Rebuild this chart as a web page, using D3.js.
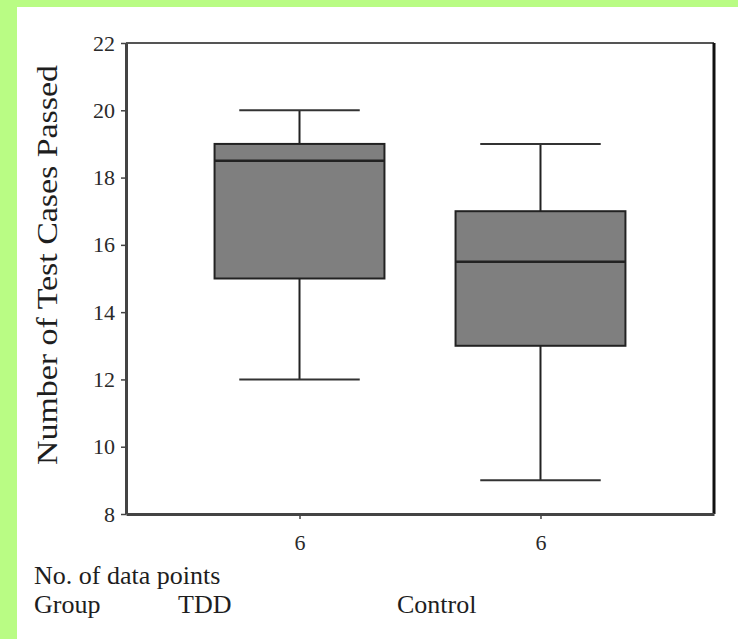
<!DOCTYPE html>
<html>
<head>
<meta charset="utf-8">
<script src="https://cdn.jsdelivr.net/npm/d3@7"></script>
<style>
  body { margin: 0; background: #b9fc84; }
</style>
</head>
<body>
<div id="chart"></div>
<script>
// box plot data
var groups = ["TDD", "Control"];
var counts = [6, 6];
var whiskerLow = [12, 9];
var quartile1 = [15, 13];
var medians = [18.5, 15.5];
var quartile3 = [19, 17];
var whiskerHigh = [20, 19];
var yTicks = [8, 10, 12, 14, 16, 18, 20, 22];

var serif = "'Liberation Serif', 'Times New Roman', serif";
var stretch = 1.15; // the source picture is a bit taller than wide

// init size
var width = 738;
var height = 639;
var margin = {top: 43, right: 24, bottom: 125, left: 126};
var plotW = width - margin.left - margin.right;
var plotH = height - margin.top - margin.bottom;

var svg = d3.select("#chart")
    .append("svg")
    .attr("width", width)
    .attr("height", height)
    .style("display", "block");

// white panel over green background
svg.append("rect")
    .attr("x", 17)
    .attr("y", 7)
    .attr("width", width - 17)
    .attr("height", height - 7)
    .attr("fill", "#fff");

// scales
var x = d3.scalePoint()
    .domain(groups)
    .range([0, plotW])
    .padding(0.72);

var step = x.step();

var y = d3.scaleLinear()
    .domain([8, 22])
    .range([plotH, 0]);

var g = svg.append("g")
    .attr("transform", "translate(" + margin.left + "," + margin.top + ")");

// frame
g.append("line").attr("x1", 0).attr("x2", plotW).attr("y1", 0).attr("y2", 0)
    .attr("stroke", "#555").attr("stroke-width", 2);
g.append("line").attr("x1", plotW).attr("x2", plotW).attr("y1", 0).attr("y2", plotH)
    .attr("stroke", "#111").attr("stroke-width", 3);

// axes
var yAxis = g.append("g")
    .call(d3.axisLeft(y).tickValues(yTicks).tickSize(5).tickSizeOuter(0).tickPadding(6).tickFormat(d3.format("d")));

var xAxis = g.append("g")
    .attr("transform", "translate(0," + plotH + ")")
    .call(d3.axisBottom(x).tickSize(5).tickSizeOuter(0).tickPadding(15).tickFormat((d, i) => counts[i]));

[yAxis, xAxis].forEach(function(a) {
    a.attr("font-family", serif);
    a.select(".domain").attr("stroke", "#444").attr("stroke-width", 3);
    a.selectAll(".tick line").attr("stroke", "#444").attr("stroke-width", 1.5);
    a.selectAll(".tick text").attr("font-size", 22).attr("fill", "#2a2a2a");
});

// boxes
var box = g.selectAll("g.box")
    .data(groups)
    .enter().append("g")
    .attr("class", "box");

var boxW = 0.705 * step;
var capW = 0.5 * step;

box.append("line")
    .attr("x1", d => x(d)).attr("x2", d => x(d))
    .attr("y1", (d, i) => y(whiskerLow[i])).attr("y2", (d, i) => y(whiskerHigh[i]))
    .attr("stroke", "#222").attr("stroke-width", 2);

box.append("line")
    .attr("x1", d => x(d) - capW / 2).attr("x2", d => x(d) + capW / 2)
    .attr("y1", (d, i) => y(whiskerHigh[i])).attr("y2", (d, i) => y(whiskerHigh[i]))
    .attr("stroke", "#333").attr("stroke-width", 2);

box.append("line")
    .attr("x1", d => x(d) - capW / 2).attr("x2", d => x(d) + capW / 2)
    .attr("y1", (d, i) => y(whiskerLow[i])).attr("y2", (d, i) => y(whiskerLow[i]))
    .attr("stroke", "#333").attr("stroke-width", 2);

box.append("rect")
    .attr("x", d => x(d) - boxW / 2)
    .attr("width", boxW)
    .attr("y", (d, i) => y(quartile3[i]))
    .attr("height", (d, i) => y(quartile1[i]) - y(quartile3[i]))
    .attr("fill", "#7f7f7f")
    .attr("stroke", "#222")
    .attr("stroke-width", 2);

box.append("line")
    .attr("x1", d => x(d) - boxW / 2).attr("x2", d => x(d) + boxW / 2)
    .attr("y1", (d, i) => y(medians[i])).attr("y2", (d, i) => y(medians[i]))
    .attr("stroke", "#222").attr("stroke-width", 2.5);

// y axis title
svg.append("text")
    .attr("transform", "translate(57,265) scale(1," + stretch + ") rotate(-90)")
    .attr("text-anchor", "middle")
    .attr("font-family", serif)
    .attr("font-size", 29.5)
    .attr("fill", "#1e1e1e")
    .text("Number of Test Cases Passed");

// bottom labels
var labels = svg.append("g")
    .attr("font-family", serif)
    .attr("font-size", 26)
    .attr("fill", "#1e1e1e");

function addLabel(text, lx, ly) {
    labels.append("text")
        .attr("x", lx)
        .attr("y", ly)
        .text(text);
}

addLabel("No. of data points", 34, 584);
addLabel("Group", 34, 613);
groups.forEach(function(d, i) {
    addLabel(d, [178, 397][i], 613);
});
</script>
</body>
</html>
